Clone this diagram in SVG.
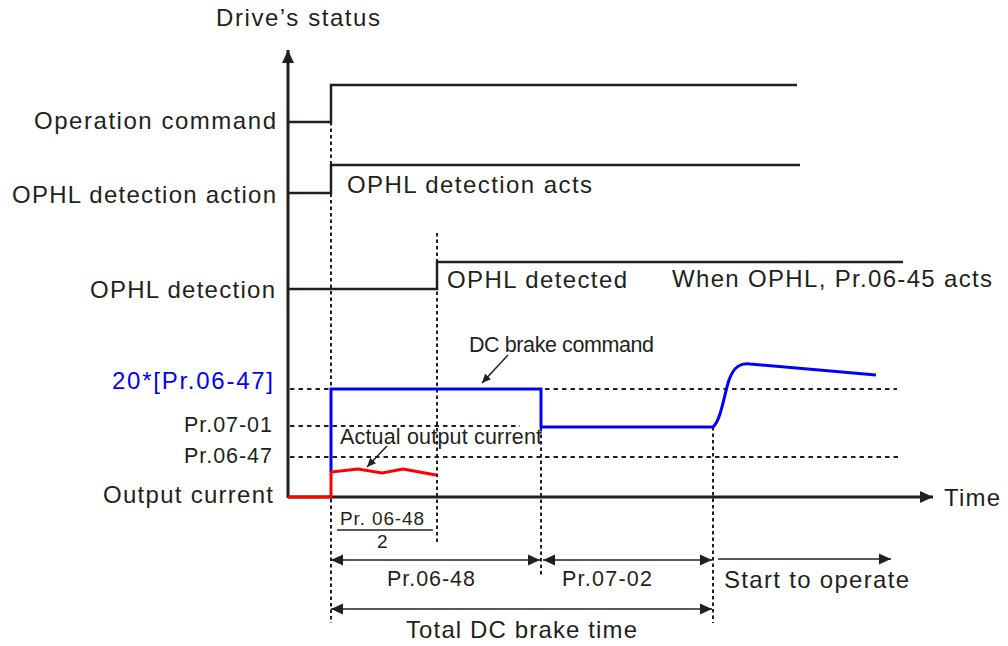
<svg xmlns="http://www.w3.org/2000/svg" width="1008" height="646" viewBox="0 0 1008 646">
<style>
text{font-family:"Liberation Sans",Arial,sans-serif;fill:#231f20;font-size:24px}
.s{font-size:21.5px}
.sig{fill:none;stroke:#231f20;stroke-width:2.5}
.ax{fill:none;stroke:#231f20;stroke-width:3}
.dv{fill:none;stroke:#231f20;stroke-width:2;stroke-dasharray:3.5 3}
.dh{fill:none;stroke:#231f20;stroke-width:2;stroke-dasharray:4.5 4}
.dim{fill:none;stroke:#231f20;stroke-width:1.5}
</style>
<defs>
<marker id="ah" viewBox="0 0 12 12" refX="12" refY="6" markerWidth="12" markerHeight="12" markerUnits="userSpaceOnUse" orient="auto-start-reverse"><path d="M0,0.5 L12,6 L0,11.5 Z" fill="#231f20"/></marker>
<marker id="sa" viewBox="0 0 10 10" refX="10" refY="5" markerWidth="9" markerHeight="9" markerUnits="userSpaceOnUse" orient="auto"><path d="M0,0.5 L10,5 L0,9.5 Z" fill="#231f20"/></marker>
<marker id="aa" viewBox="0 0 12 12" refX="12" refY="6" markerWidth="13" markerHeight="13" markerUnits="userSpaceOnUse" orient="auto"><path d="M0,0.5 L12,6 L0,11.5 Z" fill="#231f20"/></marker>
</defs>

<g id="connectors">
<!-- guide lines -->
<path class="dv" d="M331,122 V623"/>
<path class="dv" d="M437,233 V543"/>
<path class="dv" d="M541,389 V576"/>
<path class="dv" d="M713,427 V623"/>
<path class="dh" d="M290,389 H897"/>
<path class="dh" d="M290,426 H520"/>
<path class="dh" d="M290,457 H902"/>
<!-- axes -->
<path class="ax" d="M288,498 V50" marker-end="url(#aa)"/>
<path class="ax" d="M288,497 H933" marker-end="url(#aa)"/>
<!-- dimension arrows -->
<path class="dim" d="M331,560 H540" marker-start="url(#ah)" marker-end="url(#ah)"/>
<path class="dim" d="M543,560 H712" marker-start="url(#ah)" marker-end="url(#ah)"/>
<path class="dim" d="M718,559 H891" marker-end="url(#ah)"/>
<path class="dim" d="M331,609 H712" marker-start="url(#ah)" marker-end="url(#ah)"/>
<path class="dim" d="M337,530 H433"/>
<!-- callout arrows -->
<path class="dim" d="M508,355 L482,383" marker-end="url(#sa)"/>
<path class="dim" d="M387,446 L367,467" marker-end="url(#sa)"/>
</g>

<g id="operation-command">
<path class="sig" d="M288,122 H331 V85 H797"/>
<text x="34" y="129" textLength="242" lengthAdjust="spacing">Operation command</text>
</g>

<g id="ophl-detection-action">
<path class="sig" d="M288,193 H331 V165 H800"/>
<text x="12" y="203" textLength="264" lengthAdjust="spacing">OPHL detection action</text>
<text x="347" y="193" textLength="245" lengthAdjust="spacing">OPHL detection acts</text>
</g>

<g id="ophl-detection">
<path class="sig" d="M288,289 H437 V262 H903"/>
<text x="90" y="298" textLength="185" lengthAdjust="spacing">OPHL detection</text>
<text x="447" y="288" textLength="180" lengthAdjust="spacing">OPHL detected</text>
<text x="672" y="287" textLength="320" lengthAdjust="spacing">When OPHL, Pr.06-45 acts</text>
</g>

<g id="dc-brake-command">
<path d="M331,472 V389 H541 V427 H713 C721,420 724,395 729,380 C734,366 741,363 750,364 L876,375" fill="none" stroke="#0000ff" stroke-width="3"/>
<text x="469" y="352" class="s" textLength="185" lengthAdjust="spacing">DC brake command</text>
</g>

<g id="output-current">
<path d="M288,497 H331 V472 L358,469 L382,473 L403,469 L436,475" fill="none" stroke="#ff0000" stroke-width="3"/>
<text x="340" y="444" class="s" textLength="202" lengthAdjust="spacing">Actual output current</text>
</g>

<g id="labels">
<text x="216" y="26" textLength="164" lengthAdjust="spacing">Drive’s status</text>
<text x="112" y="389" style="fill:#0000ff" textLength="161" lengthAdjust="spacing">20*[Pr.06-47]</text>
<text x="184" y="432" class="s" textLength="88" lengthAdjust="spacing">Pr.07-01</text>
<text x="184" y="463" class="s" textLength="88" lengthAdjust="spacing">Pr.06-47</text>
<text x="103" y="503" textLength="170" lengthAdjust="spacing">Output current</text>
<text x="944" y="506" textLength="56" lengthAdjust="spacing">Time</text>
</g>

<g id="timing-labels">
<text x="340" y="525" style="font-size:19px" textLength="84" lengthAdjust="spacing">Pr. 06-48</text>
<text x="377" y="548" style="font-size:19px">2</text>
<text x="387" y="586" class="s" textLength="88" lengthAdjust="spacing">Pr.06-48</text>
<text x="562" y="586" class="s" textLength="90" lengthAdjust="spacing">Pr.07-02</text>
<text x="724" y="588" textLength="185" lengthAdjust="spacing">Start to operate</text>
<text x="406" y="638" textLength="231" lengthAdjust="spacing">Total DC brake time</text>
</g>
</svg>
